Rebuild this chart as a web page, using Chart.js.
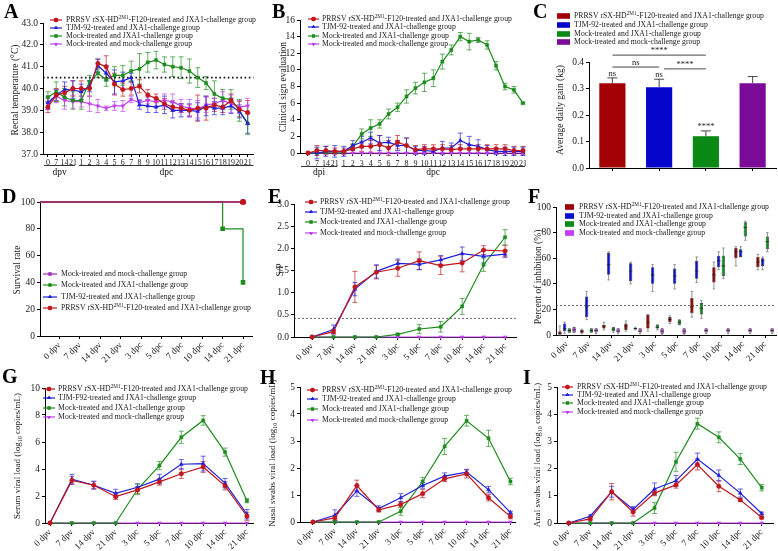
<!DOCTYPE html>
<html>
<head>
<meta charset="utf-8">
<title>PRRSV rSX-HD2M1-F120 challenge – panels A–I</title>
<script src="https://cdn.jsdelivr.net/npm/chart.js@4.4.1/dist/chart.umd.min.js"></script>
<style>
  html, body { margin: 0; padding: 0; background: #fff; }
  body { position: relative; width: 778px; height: 551px; overflow: hidden; }
  canvas { position: absolute; }
</style>
</head>
<body>
<canvas id="pA"></canvas><canvas id="pB"></canvas><canvas id="pC"></canvas>
<canvas id="pD"></canvas><canvas id="pE"></canvas><canvas id="pF"></canvas>
<canvas id="pG"></canvas><canvas id="pH"></canvas><canvas id="pI"></canvas>
<script>
/* =========================================================
   Nine-panel figure: temperature, clinical signs, ADG,
   survival, S/P, blocking ELISA and viral loads.
   ========================================================= */

/* ---- categories ---- */
const TEMP_DAYS = ['0','7','14','21','1','2','3','4','5','6','7','8','9','10','11','12','13','14','15','16','17','18','19','20','21'];
const DAYS = ['0 dpv','7 dpv','14 dpv','21 dpv','3 dpc','5 dpc','7 dpc','10 dpc','14 dpc','21 dpc'];

/* ---- A: rectal temperature ---- */
const A_RED   = [39.15,39.7,39.8,40.0,40.0,40.0,41.15,41.0,40.2,39.95,40.0,40.1,39.7,39.55,39.3,39.15,39.1,39.0,39.1,39.1,39.25,39.15,39.45,39.05,38.9];
const A_BLUE  = [39.35,39.7,39.95,39.95,39.85,40.1,41.05,40.7,40.3,40.35,40.5,39.25,39.2,39.15,39.25,39.0,39.0,39.0,38.95,39.2,39.1,39.1,39.2,38.95,38.4];
const A_GREEN = [39.6,39.85,39.6,39.45,39.45,40.3,40.7,40.4,40.6,40.6,40.8,40.9,41.2,41.3,41.1,41.0,40.95,40.8,40.5,40.25,39.75,39.55,39.5,39.0,38.4];
const A_MAG   = [39.3,39.65,39.45,39.4,39.4,39.3,39.2,39.1,39.2,39.2,39.5,39.35,39.45,39.4,39.45,39.4,39.2,39.1,39.05,39.25,39.3,39.45,39.3,39.15,39.2];
const A_RED_SD   = [0.25,0.3,0.3,0.35,0.35,0.35,0.2,0.5,0.5,0.3,0.3,0.3,0.25,0.2,0.25,0.2,0.2,0.25,0.6,0.55,0.3,0.25,0.3,0.35,0.55];
const A_BLUE_SD  = [0.3,0.25,0.35,0.4,0.35,0.25,0.3,0.35,0.55,0.4,0.2,0.2,0.3,0.25,0.4,0.35,0.3,0.3,0.4,0.45,0.3,0.3,0.35,0.3,0.45];
const A_GREEN_SD = [0.25,0.45,0.4,0.4,0.4,0.3,0.2,0.3,0.4,0.45,0.45,0.7,0.45,0.4,0.35,0.45,0.5,0.55,0.45,0.3,0.6,0.4,0.45,0.5,0.5];
const A_MAG_SD   = [0.25,0.3,0.4,0.3,0.25,0.35,0.3,0.1,0.2,0.25,0.15,0.15,0.15,0.2,0.3,0.35,0.3,0.4,0.4,0.35,0.25,0.4,0.4,0.3,0.35];
const A_CUTOFF = 40.5;

/* ---- B: clinical signs ---- */
const B_RED   = [0,0.3,0.3,0.2,0.2,0.5,0.8,0.8,1.0,0.6,1.3,0.9,0.4,0.5,0.5,0.5,0.4,0.5,0.5,0.5,0.5,0.5,0.5,0.3,0.3];
const B_BLUE  = [0,0,0.2,0.2,0.2,0.9,1.3,1.8,1.2,1.3,0.9,0.9,0.3,0.3,0.2,0.6,0.6,1.5,1.0,0.8,0.4,0.2,0.2,0.2,0.2];
const B_GREEN = [0,0,0.1,0.1,0.1,0.8,2.3,3.0,3.5,4.7,5.5,6.8,7.8,8.5,9.0,11.0,12.4,14.0,13.4,13.6,13.0,10.5,8.0,7.6,6.0];
const B_MAG   = [0,0,0,0,0,0,0,0,0,0,0,0,0,0,0,0,0,0,0,0,0,0,0,0,0];
const B_RED_SD   = [0,0.6,0.5,0.4,0.4,0.5,0.6,0.7,1.1,0.9,0.8,0.9,0.5,0.5,0.5,0.5,0.5,0.5,0.5,0.5,0.5,0.5,0.5,0.5,0.5];
const B_BLUE_SD  = [0,0.7,0.6,0.7,0.6,0.6,0.7,0.7,0.9,0.6,0.6,0.9,0.5,0.5,0.2,0.8,0.6,0.9,1.0,0.8,0.5,0.4,0.5,0.5,0.5];
const B_GREEN_SD = [0,0,0.05,0.05,0.05,0.3,0.6,1.0,0.5,0.6,0.5,0.8,0.7,1.1,1.0,0.9,0.6,0.5,1.0,0.3,0.5,0.5,0.4,0.4,0.1];

/* ---- C: average daily gain ---- */
const C_GROUPS = ['PRRSV', 'TJM-92', 'Mock/JXA1', 'Mock/mock'];
const C_ADG    = [0.32, 0.305, 0.12, 0.32];
const C_ADG_SD = [0.02, 0.03, 0.02, 0.025];
const C_BAR_MARK = ['ns', 'ns', '****', ''];
const C_SIG_FROM = [0, 0, 1];
const C_SIG_TO   = [2, 1, 2];
const C_SIG_Y    = [0.426, 0.381, 0.374];
const C_SIG_TEXT = ['****', 'ns', '****'];

/* ---- D: survival ---- */
const D_X_START = -0.96;
const D_T       = [D_X_START, 9];
const D_RED     = [100, 100];
const D_BLUE    = [100, 100];
const D_MAG     = [100, 100];
const D_T_GREEN = [D_X_START, 8, 9];
const D_GREEN   = [100, 80, 40];

/* ---- E: S/P ---- */
const E_RED   = [0,0.12,1.13,1.46,1.55,1.72,1.61,1.67,1.96,1.94];
const E_BLUE  = [0,0.17,1.08,1.48,1.66,1.64,1.74,1.88,1.82,1.87];
const E_GREEN = [0,0,0,0,0.06,0.18,0.23,0.69,1.63,2.25];
const E_MAG   = [0,0,0,0,0,0,0,0,0,0];
const E_RED_SD   = [0,0.05,0.35,0.15,0.18,0.2,0.2,0.2,0.1,0.12];
const E_BLUE_SD  = [0,0.1,0.15,0.15,0.1,0.12,0.1,0.15,0.15,0.08];
const E_GREEN_SD = [0,0,0,0,0.02,0.1,0.12,0.18,0.15,0.17];
const E_CUTOFF = 0.42;

/* ---- F: percent inhibition, [min, q1, median, q3, max] ---- */
const F_RED = [[0,0,1,3,7],[1,1.5,3,4,4.5],[4,5,7,8,10],[3,4,7,9,11],[3,5,10,16,16],[9,10,12,14,15],[14,17,22,29,34],[36,41,47,53,57],[54,60,65,68,69],[51,53,57,61,63]];
const F_BLUE = [[1,3,5,9,10],[12,14,22,30,34],[43,47,55,64,65],[40,42,50,56,57],[34,40,47,53,55],[36,40,46,52,55],[41,44,50,58,61],[51,53,58,62,65],[61,61,65,67,69],[51,54,58,60,61]];
const F_GREEN = [[2,2,3.5,5,5],[2,2,3.5,5,5],[2,3,4.5,6,6],[4,4.5,5,5.5,6],[4,5,6,8,8],[8,8,10,12,12],[13,16,21,25,27],[44,46,54,62,68],[74,77,84,88,89],[65,67,73,77,80]];
const F_MAG = [[2,2,4,6,6],[1,2,3.5,5,5],[1,2,3,5,5],[1,2,3,5,5],[0,1,3,5,5],[0,1,3,5,5],[1,2,3.5,5,5],[1,2,3.5,5,5],[1,2,3.5,5,5],[1,2,3.5,5,5]];
const F_CUTOFF = 23;

/* ---- G: serum viral load ---- */
const G_RED   = [0,3.15,2.8,1.95,2.45,3.05,3.65,4.15,2.75,0.5];
const G_BLUE  = [0,3.25,2.8,2.2,2.65,3.25,4.35,4.4,2.95,0.65];
const G_GREEN = [0,0,0,0,2.5,4.25,6.35,7.6,5.25,1.65];
const G_MAG   = [0,0,0,0,0,0,0,0,0,0];
const G_RED_SD   = [0,0.3,0.25,0.2,0.25,0.25,0.35,0.4,0.3,0.3];
const G_BLUE_SD  = [0,0.35,0.3,0.3,0.25,0.35,0.35,0.55,0.35,0.35];
const G_GREEN_SD = [0,0,0,0,0.4,0.3,0.45,0.35,0.3,0.15];

/* ---- H: nasal swabs ---- */
const H_RED   = [0,0.15,1.35,0.45,0.65,1.05,1.6,1.78,0.9,0.2];
const H_BLUE  = [0,0.25,1.15,0.5,0.9,1.35,1.7,1.85,1.2,0.35];
const H_GREEN = [0,0,0,0,0.4,1.5,2.8,3.75,3.1,1.5];
const H_MAG   = [0,0,0,0,0,0,0,0,0,0];
const H_RED_SD   = [0,0.08,0.2,0.08,0.1,0.15,0.1,0.15,0.12,0.08];
const H_BLUE_SD  = [0,0.2,0.2,0.1,0.15,0.1,0.12,0.1,0.12,0.05];
const H_GREEN_SD = [0,0,0,0,0.15,0.15,0.3,0.2,0.3,0.12];

/* ---- I: anal swabs ---- */
const I_RED   = [0,0.15,1.15,0.4,1.1,1.4,2.15,1.35,0.85,0.2];
const I_BLUE  = [0,0.25,1.15,0.5,1.25,1.55,2.35,1.75,1.1,0.35];
const I_GREEN = [0,0,0,0,0.55,2.25,3.65,3.15,2.35,1.3];
const I_MAG   = [0,0,0,0,0,0,0,0,0,0];
const I_RED_SD   = [0,0.05,0.3,0.15,0.1,0.12,0.2,0.2,0.05,0.05];
const I_BLUE_SD  = [0,0.05,0.2,0.1,0.22,0.2,0.22,0.2,0.15,0.05];
const I_GREEN_SD = [0,0,0,0,0.2,0.35,0.2,0.2,0.2,0.12];

/* ---- names (parts: 0 normal, 1 superscript, -1 subscript) ---- */
const NAME_PRRSV = [['PRRSV rSX-HD', 0], ['2M1', 1], ['-F120-treated and JXA1-challenge group', 0]];
const NAME_TJM   = [['TJM-92-treated and JXA1-challenge group', 0]];
const NAME_TJM_G = [['TJM-F92-treated and JXA1-challenge group', 0]];
const NAME_JXA1  = [['Mock-treated and JXA1-challenge group', 0]];
const NAME_MOCK  = [['Mock-treated and mock-challenge group', 0]];

/* ---- styles ---- */
const FONT = '"Liberation Serif", "Times New Roman", serif';
const RED = '#c0161c', BLUE = '#1f1fdc', GREEN = '#1e8c1e', MAG = '#bf40f0';
const S_RED   = { color: RED,   style: 'circle',   rot: 0 };
const S_BLUE  = { color: BLUE,  style: 'triangle', rot: 0 };
const S_GREEN = { color: GREEN, style: 'rect',     rot: 0 };
const S_MAG   = { color: MAG,   style: 'triangle', rot: 180 };
const C_COLORS = ['#a30005', '#0505cc', '#0a8a14', '#7c0a98'];
const F_COLORS = ['#9e0000', '#0a10d0', '#0c8a1c', '#c43cf5'];

Chart.defaults.font.family = FONT;
Chart.defaults.color = '#222';

/* ---- text helpers ---- */
function richWidth(ctx, parts, size) {
  let w = 0;
  parts.forEach(([t, m]) => { ctx.font = (m ? size * 0.68 : size) + 'px ' + FONT; w += ctx.measureText(t).width; });
  return w;
}
function richText(ctx, parts, x, y, size, align) {
  let cx = align === 'center' ? x - richWidth(ctx, parts, size) / 2 : x;
  ctx.textAlign = 'left';
  ctx.textBaseline = 'middle';
  parts.forEach(([t, m]) => {
    ctx.font = (m ? size * 0.68 : size) + 'px ' + FONT;
    const dy = m === 1 ? -size * 0.32 : m === -1 ? size * 0.28 : 0;
    ctx.fillText(t, cx, y + dy);
    cx += ctx.measureText(t).width;
  });
}

// legend font: the longest entry spans about 190 px in the figure
const LEG_SIZE = (() => {
  const c = document.createElement('canvas').getContext('2d');
  return 8.6 * 190 / richWidth(c, NAME_PRRSV, 8.6);
})();

/* ---- plugins ---- */
const errorBars = {
  id: 'errorBars',
  draw(chart) {
    const ctx = chart.ctx, y = chart.scales.y;
    chart.data.datasets.forEach((ds, di) => {
      if (!ds.errors) return;
      const meta = chart.getDatasetMeta(di);
      ctx.save();
      ctx.strokeStyle = ds.errColor || ds.borderColor;
      ctx.globalAlpha = ds.errAlpha || 0.75;
      ctx.lineWidth = 0.9;
      meta.data.forEach((el, i) => {
        const e = ds.errors[i];
        if (!e) return;
        const raw = ds.data[i];
        const v = typeof raw === 'number' ? raw : raw.y;
        const top = y.getPixelForValue(v + e);
        const bot = ds.errUpOnly ? y.getPixelForValue(v) : y.getPixelForValue(v - e);
        const cap = ds.errCap || 2.5;
        ctx.beginPath();
        ctx.moveTo(el.x, top); ctx.lineTo(el.x, bot);
        ctx.moveTo(el.x - cap, top); ctx.lineTo(el.x + cap, top);
        if (!ds.errUpOnly) { ctx.moveTo(el.x - cap, bot); ctx.lineTo(el.x + cap, bot); }
        ctx.stroke();
      });
      ctx.restore();
    });
  },
  beforeDatasetsDraw(chart) { if (chart.config.type !== 'bar') this.draw(chart); },
  afterDatasetsDraw(chart) { if (chart.config.type === 'bar') this.draw(chart); }
};

const boxWhiskers = {
  id: 'boxWhiskers',
  beforeDatasetsDraw(chart) {
    const ctx = chart.ctx, y = chart.scales.y;
    chart.data.datasets.forEach((ds, di) => {
      if (!ds.stats) return;
      const meta = chart.getDatasetMeta(di);
      ctx.save();
      ctx.strokeStyle = '#7a7a7a';
      ctx.lineWidth = 0.8;
      meta.data.forEach((el, i) => {
        const s = ds.stats[i];
        const lo = y.getPixelForValue(s[0]), hi = y.getPixelForValue(s[4]);
        const cap = el.width * 0.35;
        ctx.beginPath();
        ctx.moveTo(el.x, lo); ctx.lineTo(el.x, hi);
        ctx.moveTo(el.x - cap, lo); ctx.lineTo(el.x + cap, lo);
        ctx.moveTo(el.x - cap, hi); ctx.lineTo(el.x + cap, hi);
        ctx.stroke();
      });
      ctx.restore();
    });
  },
  afterDatasetsDraw(chart) {
    const ctx = chart.ctx, y = chart.scales.y;
    chart.data.datasets.forEach((ds, di) => {
      if (!ds.stats) return;
      const meta = chart.getDatasetMeta(di);
      ctx.save();
      ctx.strokeStyle = '#222';
      ctx.lineWidth = 0.8;
      meta.data.forEach((el, i) => {
        const m = y.getPixelForValue(ds.stats[i][2]);
        ctx.beginPath();
        ctx.moveTo(el.x - el.width / 2, m); ctx.lineTo(el.x + el.width / 2, m);
        ctx.stroke();
      });
      ctx.restore();
    });
  }
};

/* panel decorations: letter, axis title, legend, cutoff, day groups, significance */
function decor(box, d) {
  return {
    id: 'decor',
    beforeDatasetsDraw(chart) {
      if (d.cutoff == null) return;
      const ctx = chart.ctx, a = chart.chartArea;
      const py = chart.scales.y.getPixelForValue(d.cutoff);
      ctx.save();
      ctx.strokeStyle = d.cutStyle[0];
      ctx.lineWidth = d.cutStyle[1];
      ctx.setLineDash(d.cutStyle[2]);
      ctx.beginPath(); ctx.moveTo(a.left, py); ctx.lineTo(a.right, py); ctx.stroke();
      ctx.restore();
    },
    afterDraw(chart) {
      const ctx = chart.ctx;

      if (d.groups) {
        const x = chart.scales.x, yb = chart.chartArea.bottom;
        const split = (x.getPixelForValue(3) + x.getPixelForValue(4)) / 2;
        const segs = [[x.left + 1, split - 2, d.groups[0]], [split + 2, x.right, d.groups[1]]];
        ctx.save();
        ctx.strokeStyle = '#000'; ctx.lineWidth = 0.8; ctx.fillStyle = '#111';
        ctx.font = '9.5px ' + FONT; ctx.textAlign = 'center'; ctx.textBaseline = 'middle';
        segs.forEach(([a, b, t]) => {
          ctx.beginPath(); ctx.moveTo(a, yb + d.groupAt[0]); ctx.lineTo(b, yb + d.groupAt[0]); ctx.stroke();
          ctx.fillText(t, (a + b) / 2, yb + d.groupAt[1]);
        });
        ctx.restore();
      }

      if (d.sig) {
        const x = chart.scales.x, y = chart.scales.y;
        ctx.save();
        ctx.strokeStyle = '#333'; ctx.lineWidth = 0.9; ctx.fillStyle = '#222';
        ctx.font = '8.5px ' + FONT; ctx.textAlign = 'center'; ctx.textBaseline = 'alphabetic';
        C_BAR_MARK.forEach((t, i) => {
          if (!t) return;
          ctx.fillText(t, x.getPixelForValue(i), y.getPixelForValue(C_ADG[i] + C_ADG_SD[i]) - 2);
        });
        C_SIG_TEXT.forEach((t, k) => {
          const x0 = x.getPixelForValue(C_SIG_FROM[k]) + (k === 2 ? 5 : 0);
          const x1 = x.getPixelForValue(C_SIG_TO[k]);
          const py = y.getPixelForValue(C_SIG_Y[k]);
          ctx.beginPath(); ctx.moveTo(x0, py); ctx.lineTo(x1, py); ctx.stroke();
          ctx.fillText(t, (x0 + x1) / 2, py - 2);
        });
        ctx.restore();
      }

      ctx.save();
      ctx.translate(-box[0], -box[1]);          // page coordinates from here on
      ctx.fillStyle = '#000';
      ctx.font = 'bold 20px ' + FONT;
      ctx.textAlign = 'left'; ctx.textBaseline = 'alphabetic';
      ctx.fillText(d.letter, d.letterAt[0], d.letterAt[1]);

      ctx.save();
      ctx.translate(d.titleAt[0], d.titleAt[1]);
      ctx.rotate(-Math.PI / 2);
      ctx.fillStyle = '#222';
      richText(ctx, d.title, 0, 0, d.titleSize || 9.5, 'center');
      ctx.restore();

      const lg = d.legend;
      lg.series.forEach((s, i) => {
        const y = lg.rows[i];
        if (lg.boxes) {
          ctx.fillStyle = s.color;
          ctx.fillRect(lg.x0, y - 2.8, lg.x1 - lg.x0, 5.6);
        } else {
          ctx.strokeStyle = s.color; ctx.lineWidth = 1.2;
          ctx.beginPath(); ctx.moveTo(lg.x0, y); ctx.lineTo(lg.x1, y); ctx.stroke();
          ctx.fillStyle = s.color;
          Chart.helpers.drawPoint(ctx, { pointStyle: s.style, radius: 2.2, rotation: s.rot, borderWidth: 0 }, (lg.x0 + lg.x1) / 2, y);
          ctx.fill();
        }
        ctx.fillStyle = '#1a1a1a';
        richText(ctx, s.name, lg.tx, y, LEG_SIZE, 'left');
      });
      ctx.restore();
    }
  };
}

/* ---- builders ---- */
function yAxis(min, max, step, dec) {
  return {
    type: 'linear', min, max,
    ticks: { stepSize: step, font: { family: FONT, size: 9.5 }, color: '#222', padding: 2,
             callback: v => Number(v).toFixed(dec) },
    grid: { drawOnChartArea: false, tickLength: 3, color: '#000' },
    border: { color: '#000', width: 1 }
  };
}
function xDays(min, max, labels, rot, size, pad) {
  return {
    type: 'linear', min, max,
    afterBuildTicks: s => { s.ticks = labels.map((_, i) => ({ value: i })); },
    ticks: { autoSkip: false, minRotation: rot, maxRotation: rot, padding: pad, color: '#222',
             font: { family: FONT, size }, callback: v => labels[v] },
    grid: { drawOnChartArea: false, tickLength: 3, color: '#000' },
    border: { color: '#000', width: 1 }
  };
}
function lineSet(s, vals, errs, extra) {
  return Object.assign({
    data: vals.map((v, i) => ({ x: i, y: v })),
    errors: errs,
    borderColor: s.color, backgroundColor: s.color,
    pointBackgroundColor: s.color, pointBorderColor: s.color,
    borderWidth: 1.2, pointRadius: 2.2, pointBorderWidth: 0.5,
    pointStyle: s.style, pointRotation: s.rot, tension: 0, clip: false
  }, extra || {});
}
function withName(s, name) { return Object.assign({ name }, s); }

function panel(id, box, area, cfg, d) {
  const cv = document.getElementById(id);
  cv.width = box[2]; cv.height = box[3];
  cv.style.left = box[0] + 'px'; cv.style.top = box[1] + 'px';
  const yw = area[0] - box[0], xh = box[1] + box[3] - area[3];
  const o = cfg.options;
  o.responsive = false; o.animation = false; o.devicePixelRatio = 1;
  o.layout = { padding: { left: 0, top: area[1] - box[1], right: box[0] + box[2] - area[2], bottom: 0 } };
  o.scales.y.afterFit = s => { s.width = yw; };
  o.scales.x.afterFit = s => { s.height = xh; };
  o.plugins = { legend: { display: false }, tooltip: { enabled: false } };
  cfg.plugins = [errorBars, boxWhiskers, decor(box, d)];
  return new Chart(cv, cfg);
}

const LEG4 = [withName(S_RED, NAME_PRRSV), withName(S_BLUE, NAME_TJM), withName(S_GREEN, NAME_JXA1), withName(S_MAG, NAME_MOCK)];
const THICK_DOTS = ['#111', 1.8, [1.6, 2.6]];
const THIN_DOTS  = ['#444', 0.8, [2, 2]];

/* ---- A ---- */
panel('pA', [0, 0, 258, 185], [43, 23, 258, 154], {
  type: 'line',
  data: { datasets: [
    lineSet(S_RED, A_RED, A_RED_SD), lineSet(S_BLUE, A_BLUE, A_BLUE_SD),
    lineSet(S_GREEN, A_GREEN, A_GREEN_SD), lineSet(S_MAG, A_MAG, A_MAG_SD)
  ] },
  options: { scales: { x: xDays(-0.59, 24.7, TEMP_DAYS, 0, 8, 1), y: yAxis(37, 43, 0.5, 1) } }
}, {
  letter: 'A', letterAt: [4, 18], title: [['Rectal temperature (°C)', 0]], titleAt: [15, 90],
  cutoff: A_CUTOFF, cutStyle: THICK_DOTS, groups: ['dpv', 'dpc'], groupAt: [11.5, 18],
  legend: { series: LEG4, rows: [20, 28, 36, 44], x0: 50, x1: 62, tx: 66 }
});

/* ---- B ---- */
panel('pB', [258, 0, 272, 185], [300, 20, 525, 153], {
  type: 'line',
  data: { datasets: [
    lineSet(S_RED, B_RED, B_RED_SD), lineSet(S_BLUE, B_BLUE, B_BLUE_SD),
    lineSet(S_GREEN, B_GREEN, B_GREEN_SD), lineSet(S_MAG, B_MAG, null)
  ] },
  options: { scales: { x: xDays(-0.89, 24.22, TEMP_DAYS, 0, 8, 3), y: yAxis(0, 16, 2, 0) } }
}, {
  letter: 'B', letterAt: [272, 18], title: [['Clinical sign evaluation', 0]], titleAt: [283, 87],
  groups: ['dpi', 'dpc'], groupAt: [13.5, 19.5],
  legend: { series: LEG4, rows: [19, 27, 36, 44], x0: 308, x1: 319, tx: 322 }
});

/* ---- C ---- */
panel('pC', [530, 0, 248, 185], [589, 62, 776, 168], {
  type: 'bar',
  data: { labels: C_GROUPS, datasets: [{
    data: C_ADG, errors: C_ADG_SD, errUpOnly: true, errAlpha: 1, errColor: '#333', errCap: 5,
    backgroundColor: C_COLORS, borderWidth: 0, barPercentage: 0.56, categoryPercentage: 1
  }] },
  options: { scales: {
    x: { type: 'category', offset: true, ticks: { display: false },
         grid: { offset: false, drawOnChartArea: false, tickLength: 3, color: '#000' }, border: { color: '#000' } },
    y: yAxis(0, 0.4, 0.1, 1)
  } }
}, {
  letter: 'C', letterAt: [533, 18], title: [['Average daily gain (kg)', 0]], titleAt: [560, 110], sig: true,
  legend: { boxes: true, rows: [16, 25, 34, 42], x0: 557, x1: 570, tx: 574,
    series: [{ color: C_COLORS[0], name: NAME_PRRSV }, { color: C_COLORS[1], name: NAME_TJM },
             { color: C_COLORS[2], name: NAME_JXA1 }, { color: C_COLORS[3], name: NAME_MOCK }] }
});

/* ---- D ---- */
const S_MAG_D = { color: '#9b30b8', style: 'rect', rot: 0 };
function survSet(s, t, vals, radii) {
  return { data: vals.map((v, i) => ({ x: t[i], y: v })), stepped: true,
    borderColor: s.color, backgroundColor: s.color, pointBackgroundColor: s.color, pointBorderColor: s.color,
    borderWidth: 1.2, pointRadius: radii, pointStyle: s.style, pointRotation: s.rot, clip: false };
}
panel('pD', [0, 185, 258, 180], [40, 202, 257, 336], {
  type: 'line',
  data: { datasets: [
    survSet(S_RED, D_T, D_RED, [0, 2.4]),
    survSet(S_MAG_D, D_T, D_MAG, [0, 2.4]),
    survSet(S_BLUE, D_T, D_BLUE, [0, 2.4]),
    survSet(S_GREEN, D_T_GREEN, D_GREEN, [0, 2.4, 2.4])
  ] },
  options: { scales: { x: xDays(D_X_START, 9.48, DAYS, 45, 9, 1), y: yAxis(0, 100, 20, 0) } }
}, {
  letter: 'D', letterAt: [2, 203], title: [['Survival rate', 0]], titleAt: [17, 270],
  legend: { rows: [274, 285, 297, 308], x0: 43, x1: 57, tx: 61,
    series: [withName(S_MAG_D, NAME_MOCK), withName(S_GREEN, NAME_JXA1), withName(S_BLUE, NAME_TJM), withName(S_RED, NAME_PRRSV)] }
});

/* ---- E ---- */
panel('pE', [258, 185, 264, 180], [294, 204, 516, 337], {
  type: 'line',
  data: { datasets: [
    lineSet(S_RED, E_RED, E_RED_SD), lineSet(S_BLUE, E_BLUE, E_BLUE_SD),
    lineSet(S_GREEN, E_GREEN, E_GREEN_SD), lineSet(S_MAG, E_MAG, null)
  ] },
  options: { scales: { x: xDays(-0.84, 9.51, DAYS, 45, 9, 1), y: yAxis(0, 3, 0.5, 1) } }
}, {
  letter: 'E', letterAt: [268, 203], title: [['S/P', 0]], titleAt: [280, 270],
  cutoff: E_CUTOFF, cutStyle: THIN_DOTS,
  legend: { series: LEG4, rows: [202, 212, 222, 233], x0: 305, x1: 317, tx: 320 }
});

/* ---- F ---- */
const F_ALL = [F_RED, F_BLUE, F_GREEN, F_MAG];
panel('pF', [522, 185, 256, 180], [556, 207, 776, 335], {
  type: 'bar',
  data: { labels: DAYS, datasets: F_ALL.map((st, k) => ({
    data: st.map(b => [b[1], b[3]]), stats: st,
    backgroundColor: F_COLORS[k], borderColor: '#3a3a3a', borderWidth: 0.7, borderSkipped: false,
    barPercentage: 0.72, categoryPercentage: 0.86
  })) },
  options: { scales: {
    x: { type: 'category', offset: true,
         ticks: { autoSkip: false, minRotation: 45, maxRotation: 45, padding: 1, font: { family: FONT, size: 9 }, color: '#222' },
         grid: { offset: false, drawOnChartArea: false, tickLength: 3, color: '#000' }, border: { color: '#000' } },
    y: yAxis(0, 100, 20, 0)
  } }
}, {
  letter: 'F', letterAt: [528, 203], title: [['Percent of inhibition (%)', 0]], titleAt: [538, 277],
  cutoff: F_CUTOFF, cutStyle: THIN_DOTS,
  legend: { boxes: true, rows: [207, 216, 224, 233], x0: 565, x1: 574, tx: 579,
    series: [{ color: F_COLORS[0], name: NAME_PRRSV }, { color: F_COLORS[1], name: NAME_TJM },
             { color: F_COLORS[2], name: NAME_JXA1 }, { color: F_COLORS[3], name: NAME_MOCK }] }
});

/* ---- G ---- */
panel('pG', [0, 365, 258, 186], [45, 388, 255, 523], {
  type: 'line',
  data: { datasets: [
    lineSet(S_RED, G_RED, G_RED_SD), lineSet(S_BLUE, G_BLUE, G_BLUE_SD),
    lineSet(S_GREEN, G_GREEN, G_GREEN_SD), lineSet(S_MAG, G_MAG, null)
  ] },
  options: { scales: { x: xDays(-0.23, 9.3, DAYS, 45, 9, 1), y: yAxis(0, 10, 2, 0) } }
}, {
  letter: 'G', letterAt: [2, 383], titleSize: 9, titleAt: [18, 456],
  title: [['Serum viral load (log', 0], ['10', -1], [' copies/mL)', 0]],
  legend: { rows: [389, 398, 408, 417], x0: 43, x1: 55, tx: 58,
    series: [withName(S_RED, NAME_PRRSV), withName(S_BLUE, NAME_TJM_G), withName(S_GREEN, NAME_JXA1), withName(S_MAG, NAME_MOCK)] }
});

/* ---- H ---- */
panel('pH', [258, 365, 262, 186], [300, 387, 516, 522], {
  type: 'line',
  data: { datasets: [
    lineSet(S_RED, H_RED, H_RED_SD), lineSet(S_BLUE, H_BLUE, H_BLUE_SD),
    lineSet(S_GREEN, H_GREEN, H_GREEN_SD), lineSet(S_MAG, H_MAG, null)
  ] },
  options: { scales: { x: xDays(-0.59, 9.23, DAYS, 45, 9, 1), y: yAxis(0, 5, 1, 0) } }
}, {
  letter: 'H', letterAt: [260, 384], titleSize: 9, titleAt: [273, 453],
  title: [['Nasal swabs viral load (log', 0], ['10', -1], [' copies/mL)', 0]],
  legend: { series: LEG4, rows: [390, 399, 409, 420], x0: 307, x1: 318, tx: 322 }
});

/* ---- I ---- */
panel('pI', [520, 365, 258, 186], [557, 387, 778, 523], {
  type: 'line',
  data: { datasets: [
    lineSet(S_RED, I_RED, I_RED_SD), lineSet(S_BLUE, I_BLUE, I_BLUE_SD),
    lineSet(S_GREEN, I_GREEN, I_GREEN_SD), lineSet(S_MAG, I_MAG, null)
  ] },
  options: { scales: { x: xDays(-0.55, 9.55, DAYS, 45, 9, 1), y: yAxis(0, 5, 1, 0) } }
}, {
  letter: 'I', letterAt: [523, 384], titleSize: 9, titleAt: [538, 455],
  title: [['Anal swabs viral load (log', 0], ['10', -1], [' copies/mL)', 0]],
  legend: { series: LEG4, rows: [387, 395, 403, 412], x0: 562, x1: 573, tx: 577 }
});
</script>
</body>
</html>
